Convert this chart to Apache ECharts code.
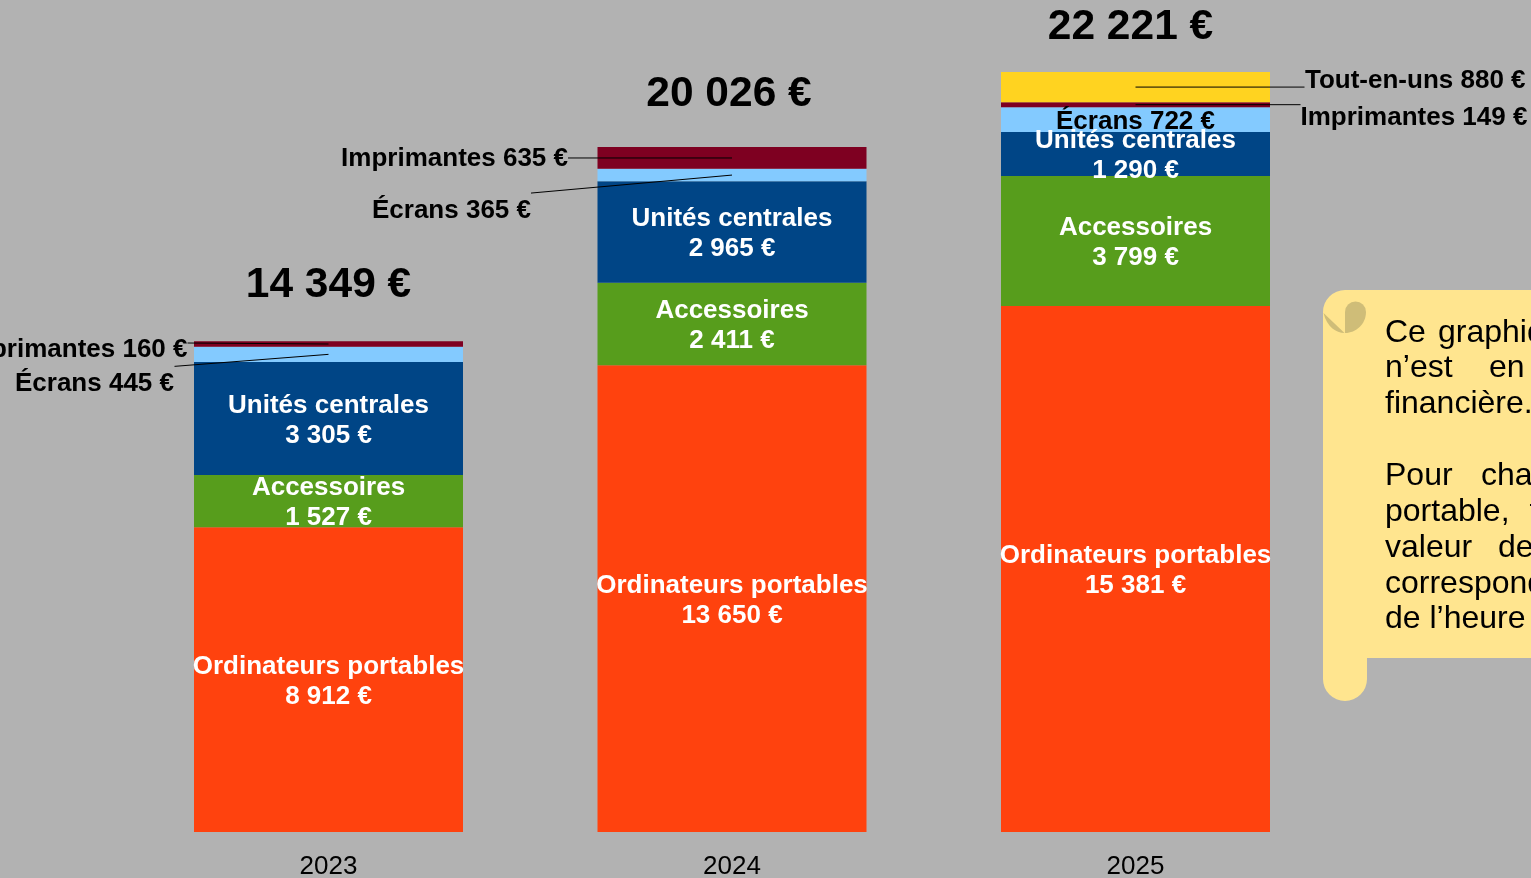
<!DOCTYPE html>
<html><head><meta charset="utf-8">
<style>html,body{margin:0;padding:0;background:#b2b2b2;overflow:hidden}#c{width:1531px;height:878px}</style>
<script src="https://cdn.jsdelivr.net/npm/echarts@6/dist/echarts.min.js"></script>
</head><body><div id="c"></div>
<script>
const categories = ['2023','2024','2025'];
const ordinateurs = [8912,13650,15381];
const accessoires = [1527,2411,3799];
const unites = [3305,2965,1290];
const ecrans = [445,365,722];
const imprimantes = [160,635,149];
const toutEnUns = [0,0,880];
const totals = [14349,20026,22221];
const fmt = v => String(v).replace(/\B(?=(\d{3})+$)/g,' ') + ' €';
const font = '"Liberation Sans", Arial, sans-serif';

const stack = (name,values,color,showLabel) => ({
  name, type:'bar', stack:'t', barWidth:269, data:values.map(v=>v||null),
  itemStyle:{color}, z:2,
  label:{show:showLabel,position:'inside',offset:[0,2],color:'#fff',fontFamily:font,fontWeight:'bold',fontSize:26,lineHeight:30,
    formatter:p=>name+'\n'+fmt(p.value)}
});

// callouts: [name, value, year index, base of segment, leader dx, leader dy, text dx, text y offset, align]
const base = i => ordinateurs[i]+accessoires[i]+unites[i];
const callouts = [
  ['Imprimantes',imprimantes[0],0,base(0)+ecrans[0],-141,-1,-141,5.5,'right'],
  ['Écrans',ecrans[0],0,base(0),-154,12,-154.5,29.5,'right'],
  ['Imprimantes',imprimantes[1],1,base(1)+ecrans[1],-164,0,-164,1,'right'],
  ['Écrans',ecrans[1],1,base(1),-201,18,-201,36,'right'],
  ['Écrans',ecrans[2],2,base(2),0,0,0,2,'center'],
  ['Imprimantes',imprimantes[2],2,base(2)+ecrans[2],165,0,165,13,'left'],
  ['Tout-en-uns',toutEnUns[2],2,base(2)+ecrans[2]+imprimantes[2],169,0,169.5,-6,'left']
];
const totalOffsets = [[0,-56],[-3,-53],[-5,-44.5]];

const note = [
  ['Ce',1385,333],['graphique',1438,333],
  ['n’est',1385,368],['en',1489,368],
  ['financière.',1385,404],
  ['Pour',1385,476],['chaque',1481,476],
  ['portable,',1385,512],['t',1529.5,512],
  ['valeur',1385,548],['de',1498,548],
  ['correspond',1385,584],
  ['de l’heure',1385,619]
];
const notePaths = [
  ['M1323 312 A22 22 0 0 1 1345 290 L1540 290 L1540 658 L1367 658 L1367 679 A22 22 0 0 1 1323 679 Z','#ffe58f'],
  ['M1345 333 L1345 312 A10.5 10.5 0 0 1 1366 312 C1366 324 1356 333 1345 333 Z','#cfbd78'],
  ['M1323.5 313 L1344.5 333 C1336 333 1327 327 1323.5 313 Z','#cfbd78']
];

const option = {
  animation:false,
  backgroundColor:'#b2b2b2',
  grid:{left:126.75,width:1210.5,top:11.2,bottom:46,outerBoundsMode:'none',containLabel:false},
  xAxis:{type:'category',data:categories,axisLine:{show:false},axisTick:{show:false},
    axisLabel:{color:'#000',fontFamily:font,fontSize:26,margin:22}},
  yAxis:{type:'value',min:0,max:24000,show:false,splitLine:{show:false}},
  graphic:note.map(([text,x,y])=>({type:'text',z:30,x,y,style:{text,fill:'#000',font:'32px '+font,textAlign:'left',textVerticalAlign:'middle'}})),
  series:[
    {type:'custom',z:1,silent:true,clip:false,data:[[0,0]],encode:{x:0,y:1},
      renderItem:()=>({type:'group',children:notePaths.map(([pathData,fill])=>({type:'path',shape:{pathData},style:{fill}}))})},
    stack('Ordinateurs portables',ordinateurs,'#ff420e',true),
    stack('Accessoires',accessoires,'#579d1c',true),
    stack('Unités centrales',unites,'#004586',true),
    stack('Écrans',ecrans,'#83caff',false),
    stack('Imprimantes',imprimantes,'#7e0021',false),
    stack('Tout-en-uns',toutEnUns,'#ffd320',false),
    {type:'custom',z:5,silent:true,data:callouts.map((c,i)=>[c[2],c[3]+c[1]/2,i]),
      encode:{x:0,y:1},clip:false,
      renderItem:(params,api)=>{
        const c=callouts[api.value(2)];
        const p=api.coord([api.value(0),api.value(1)]);
        const children=[];
        if(c[4]||c[5]) children.push({type:'line',shape:{x1:p[0],y1:p[1],x2:p[0]+c[4],y2:p[1]+c[5]},style:{stroke:'#000',lineWidth:1}});
        children.push({type:'text',style:{x:p[0]+c[6],y:p[1]+c[7],text:c[0]+' '+fmt(c[1]),fill:'#000',font:'bold 26px '+font,textAlign:c[8],textVerticalAlign:'middle'}});
        return {type:'group',children};
      }},
    {type:'custom',z:5,silent:true,data:totals.map((v,i)=>[i,v]),encode:{x:0,y:1},clip:false,
      renderItem:(params,api)=>{
        const i=api.value(0);
        const p=api.coord([i,api.value(1)]);
        return {type:'text',style:{x:p[0]+totalOffsets[i][0],y:p[1]+totalOffsets[i][1],text:fmt(api.value(1)),fill:'#000',font:'bold 42.5px '+font,textAlign:'center',textVerticalAlign:'middle'}};
      }}
  ]
};
echarts.init(document.getElementById('c'),null,{renderer:'canvas'}).setOption(option);
</script></body></html>
